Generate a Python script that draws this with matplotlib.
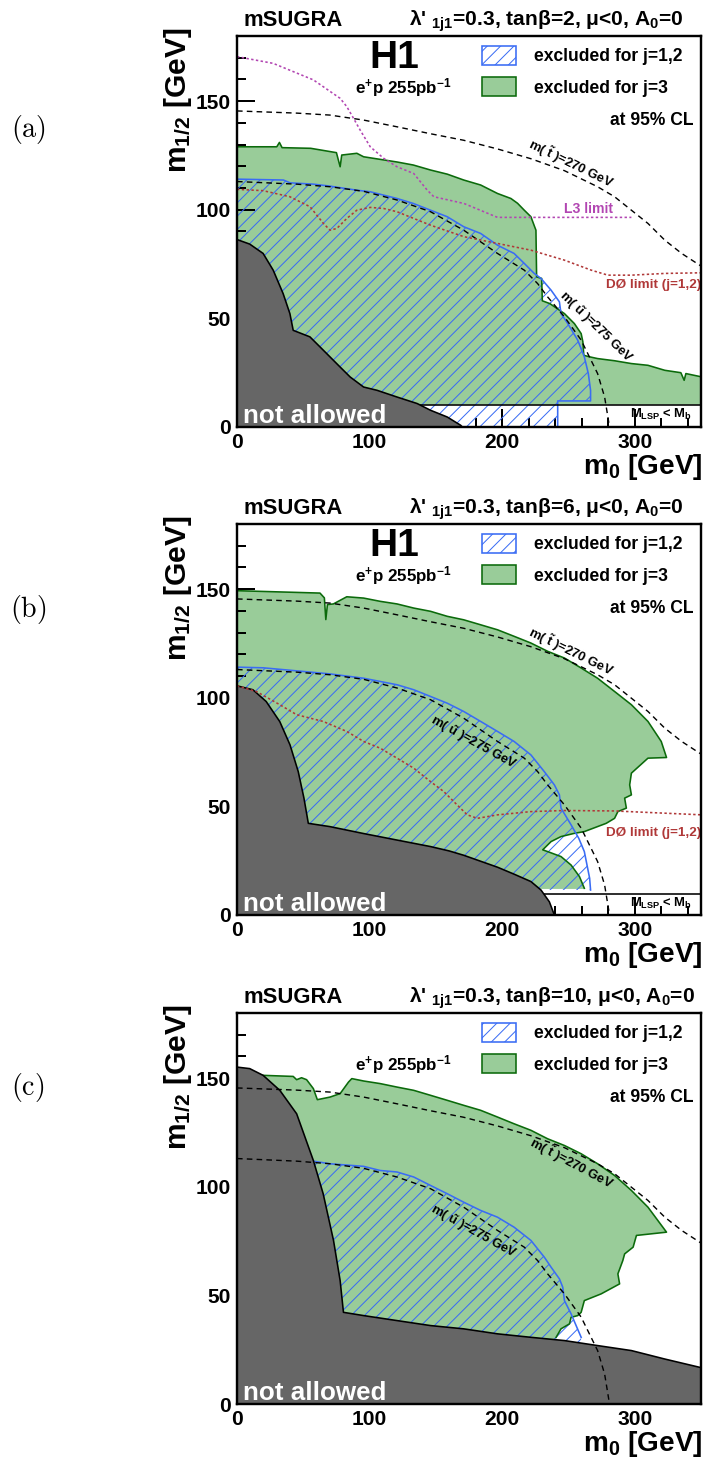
import matplotlib.pyplot as plt
from matplotlib.patches import Patch
from matplotlib.ticker import MultipleLocator

DPI = 80
PX = 72 / DPI  # points per pixel

plt.rcParams['font.family'] = ['Liberation Sans', 'DejaVu Sans']
plt.rcParams['font.weight'] = 'bold'
plt.rcParams['mathtext.fontset'] = 'custom'
plt.rcParams['mathtext.rm'] = 'Liberation Sans:bold'
plt.rcParams['mathtext.bf'] = 'Liberation Sans:bold'
plt.rcParams['mathtext.it'] = 'Liberation Sans:bold:italic'
plt.rcParams['mathtext.sf'] = 'Liberation Sans:bold'
plt.rcParams['hatch.linewidth'] = 1.0 * PX

GREEN = '#99cc99'
DKGREEN = '#0b6a0b'
BLUE = '#3a6cf4'
GREY = '#666666'
L3COL = '#b246b2'
D0COL = '#b03838'

# ---- data (m0, m1/2 in GeV) ----
TANB = [2, 6, 10]
PANEL_TAGS = ['(a)', '(b)', '(c)']

# squark mass contours (same in all panels)
STOP_M0 = [0, 45, 70, 95.5, 120.7, 146, 171, 196.5, 221.7, 247, 272, 284.8, 297.5, 310, 322.7, 335.4, 351]
STOP_M12 = [145.5, 144.5, 143.6, 141.3, 138.2, 135, 132, 128, 123.5, 118, 110.6, 106, 99.8, 93.7, 86, 79.9, 73.7]
SUP_M0 = [0, 45, 70.2, 95.5, 120.7, 146, 171, 196.5, 216.7, 226.8, 234.3, 247, 259.6, 272, 277.3, 281]
SUP_M12 = [113, 111.8, 110.6, 108.5, 104.5, 99.1, 90.6, 79.9, 72.2, 66, 59.9, 50.7, 40, 24.6, 13.8, 0]

# panel (a): tan(beta)=2
A_GREY_M0 = [0, 9.6, 19.7, 27.3, 34.8, 39.9, 42.4, 55, 65.2, 77.8, 85.4, 95.5, 105.6, 120.7, 135.9, 146, 158.6, 168.7, 170]
A_GREY_M12 = [86.3, 84.2, 79.9, 72.2, 61.4, 52.2, 44.5, 41.5, 35.3, 27.6, 23, 18.4, 16.9, 13.8, 10.8, 7.7, 4.6, 0.8, 0]
A_GREEN_M0 = [0, 30, 32, 34, 55.6, 75, 77.8, 79, 90.4, 95.5, 120.7, 133, 146, 158.6, 171, 183.8, 196.5, 206.6,
              211.6, 216.7, 221.7, 224.5, 225.5, 226, 229.8, 230.3, 236, 247, 254.5, 259.6, 260.9, 261.6,
              266, 272, 284.8, 297.5, 310, 322.7, 334.8, 337.3, 338.6, 351]
A_GREEN_M12 = [129, 129, 131, 128.6, 128.3, 126.3, 119.8, 125.2, 126, 124.4, 122, 120.6, 118.3, 116.4, 113.7, 111.4,
               107.5, 105.2, 103, 99.8, 96.8, 92.2, 90.6, 69.1, 68.4, 58.1, 56.8, 52.2, 47.6, 43, 39.2, 33,
               32.3, 31.5, 30.5, 29.2, 28.4, 26.1, 25, 21.5, 24.6, 23]
A_GREEN_FLOOR = 10.3
A_BLUE_M0 = [0, 35, 40, 57.6, 70, 90.4, 100.5, 120.7, 133, 146, 158.6, 171, 183.8, 196.5, 209, 216.7, 224.2,
             229.3, 236.9, 243.2, 244.4, 249.5, 257, 262, 265, 266.7, 266.7, 241.9, 241.9]
A_BLUE_M12 = [114.1, 113.7, 112.4, 111.8, 110.9, 109, 108.3, 105.2, 102.9, 99.8, 96.8, 92.2, 89.1, 83.7, 79.9,
              75.3, 70.7, 68.4, 63, 57.6, 52.2, 47.6, 40, 32.3, 24.6, 16.9, 12, 12, 0]
A_BLUE_FLOOR = 0
A_MLSP = 10.3
A_L3_M0 = [0, 27.3, 57.6, 77.8, 82.8, 87.9, 92.9, 100.5, 110.6, 120.7, 133.3, 143.4, 148.5, 171.2, 196.5, 297.5]
A_L3_M12 = [170.5, 167.4, 159.8, 151.3, 147.5, 142.1, 136.7, 129, 123.7, 119.8, 116.7, 109.1, 106, 102.9, 96.5, 96.5]
A_D0_M0 = [0, 19.7, 39.9, 55.1, 65.2, 70.2, 75.3, 82.8, 90.4, 100.5, 110.6, 120.7, 146, 171.2, 196.5, 221.7,
           247, 267.2, 279.8, 297.5, 322.7, 351]
A_D0_M12 = [109.4, 108.8, 106, 101.4, 93.7, 90.6, 91.4, 96, 99.8, 101.1, 100.6, 99.1, 92.9, 87.6, 84.5, 81.4,
            76.8, 72.2, 69.9, 69.9, 70.7, 71]

# panel (b): tan(beta)=6
B_GREY_M0 = [0, 12, 22, 32.3, 40, 46.2, 50.5, 53.8, 70, 95.5, 120.7, 146, 160, 171, 196.5, 209, 221.7, 229.3, 235.6, 239.4]
B_GREY_M12 = [105.5, 103.7, 98.3, 89, 78.3, 66, 53.8, 42.2, 40.7, 37.5, 34.5, 31.5, 29.5, 27.5, 22, 18.8, 15.4, 11.5, 6.1, 0]
B_GREEN_M0 = [0, 62.6, 65.9, 67, 68.2, 72.7, 82.8, 95.5, 108, 120.7, 133.3, 146, 158.6, 171, 183.8, 196.5, 209,
              221.7, 234.3, 247, 259.6, 272, 284.8, 297.5, 310, 320, 324, 310, 297.5, 296.2, 297.5, 292.4,
              293.7, 287.3, 284.8, 278.5, 262, 254.5, 244.4, 236.9, 230.6, 234.3, 244.4, 252, 258.3, 262]
B_GREEN_M12 = [149.3, 148.2, 146, 136, 142.9, 143.2, 146.5, 145.9, 144.4, 143.2, 141.3, 139.8, 137.5, 135.9, 133.6,
               131.3, 128.3, 125.2, 121.4, 118.3, 113.7, 109, 102.9, 96.8, 89.1, 79.9, 72.5, 72.2, 65.3, 59.9,
               55.3, 53.8, 49.2, 47.6, 44.5, 42.2, 38.4, 37.6, 36.1, 33.8, 30, 29.2, 26.9, 23, 17.7, 12.3]
B_GREEN_FLOOR = 12
B_BLUE_M0 = [0, 19.7, 45, 70, 95.5, 120.7, 133.3, 146, 158.6, 171, 183.8, 196.5, 209, 221.7, 231.8, 239.4,
             243.2, 244.4, 252, 257.8, 262, 266, 266.7]
B_BLUE_M12 = [114.1, 113.8, 112.4, 111, 109, 106, 103.7, 100.6, 97.5, 93.7, 89.1, 84.5, 79.9, 73.7, 66, 59.9,
              55.3, 49.2, 41.5, 35.3, 29.2, 16.9, 11.5]
B_BLUE_FLOOR = 11.5
B_MLSP = 9.7
B_D0_M0 = [0, 14.6, 32.3, 45, 65, 82.8, 95.5, 108, 120.7, 133.3, 146, 156, 166, 173.7, 181.3, 196.5, 221.7,
           247, 284.8, 351]
B_D0_M12 = [105.5, 102.9, 96.8, 92.2, 89.1, 84.5, 79.9, 76.8, 72.2, 67.6, 61.4, 56.8, 50.7, 46.1, 44.5, 46.1,
            47.6, 48.1, 47.9, 46.1]

# panel (c): tan(beta)=10
C_GREY_M0 = [0, 9.6, 19.7, 32.3, 45, 57.6, 65, 72.8, 77.8, 80.3, 95.5, 120.7, 146, 171, 196.5, 221.7, 247, 272,
             297.5, 322.7, 351]
C_GREY_M12 = [155.1, 154.4, 151.3, 144.4, 133.6, 112.1, 96.8, 75.3, 56.8, 42.2, 40.7, 38.4, 36.1, 34.6, 32.3,
              30.7, 29.2, 26.9, 24.6, 20.7, 16.6]
C_GREEN_M0 = [19.7, 42.4, 45, 48.7, 52.5, 57.6, 60.6, 70.2, 77.8, 84.1, 86.6, 95.5, 108, 120.7, 133.3, 146,
              158.6, 171, 183.8, 196.5, 209, 221.7, 234.3, 247, 259.6, 272, 284.8, 297.5, 310, 324, 301.3,
              298.8, 292.4, 291, 287.3, 288.6, 274.7, 262, 259.6, 257, 252, 250.8, 244.4, 240.7]
C_GREEN_M12 = [151.3, 150.8, 149.3, 150.2, 149.3, 145.2, 140.1, 141.3, 142.9, 148.2, 149.8, 148.7, 147.5, 145.9,
               144.4, 142.1, 139.8, 137.5, 135.2, 132.1, 129, 126, 122.1, 119, 115.2, 110.6, 105.2, 98.3, 90.6,
               79.1, 77.6, 72.2, 69.1, 66, 59.9, 55.3, 50.7, 47.6, 42.2, 40.7, 39.9, 36.9, 34.6, 30.7]
C_GREEN_FLOOR = 0
C_BLUE_M0 = [57.6, 70, 95.5, 108, 120.7, 133.3, 146, 158.6, 171, 183.8, 196.5, 209, 221.7, 231.8, 236.9, 243.2,
             245.7, 247, 252, 259.6]
C_BLUE_M12 = [111.8, 110.6, 109.4, 107.5, 106.8, 104.5, 100.6, 96.8, 92.9, 89.1, 86, 81.4, 75.3, 67.6, 63, 57.6,
              53.8, 47.6, 41.5, 30.7]
C_BLUE_FLOOR = 0


def closed(m0, m12, floor):
    return list(m0) + [m0[-1], 0], list(m12) + [floor, floor]


def draw_panel(ax, tanb, grey, green, green_floor, blue, blue_floor, mlsp=None, l3=None, d0=None,
               d0_lab_y=None, h1=True, stop_lab=(252, 121.3, -26), sup_lab=(271, 46, -44)):
    # green (j=3) region
    gx, gy = closed(green[0], green[1], green_floor)
    ax.fill(gx, gy, facecolor=GREEN, edgecolor='none', zorder=1)
    ax.plot(green[0], green[1], color=DKGREEN, lw=1.6 * PX, zorder=2.5)
    # blue hatched (j=1,2) region
    bx, by = closed(blue[0], blue[1], blue_floor)
    ax.fill(bx, by, facecolor='none', edgecolor=BLUE, hatch='//', linewidth=0, zorder=2)
    ax.plot(blue[0], blue[1], color=BLUE, lw=1.6 * PX, zorder=3)
    if mlsp is not None:
        ax.plot([0, 350], [mlsp, mlsp], color='black', lw=1.6 * PX, zorder=3.5)
        ax.text(343, mlsp - 4.6, r'M$_{\mathrm{LSP}}$ < M$_{\mathrm{b}}$', fontsize=13 * PX,
                ha='right', va='center', zorder=8)
    # not allowed region
    rx, ry = closed(grey[0], grey[1], 0)
    ax.fill(rx, ry, facecolor=GREY, edgecolor='none', zorder=5)
    ax.plot(grey[0], grey[1], color='black', lw=1.6 * PX, zorder=5.5)
    # mass contours
    ax.plot(STOP_M0, STOP_M12, color='black', lw=1.4 * PX, ls=(0, (4, 3)), zorder=6)
    ax.plot(SUP_M0, SUP_M12, color='black', lw=1.4 * PX, ls=(0, (4, 3)), zorder=6)
    ax.text(stop_lab[0], stop_lab[1], r'm( $\tilde{\mathrm{t}}$ )=270 GeV', fontsize=13 * PX,
            rotation=stop_lab[2], rotation_mode='anchor', ha='center', va='center', zorder=8)
    ax.text(sup_lab[0], sup_lab[1], r'm( $\tilde{\mathrm{u}}$ )=275 GeV', fontsize=13 * PX,
            rotation=sup_lab[2], rotation_mode='anchor', ha='center', va='center', zorder=8)
    if l3 is not None:
        ax.plot(l3[0], l3[1], color=L3COL, lw=1.6 * PX, ls=(0, (1.5, 1.5)), zorder=6)
        ax.text(265, 100.2, 'L3 limit', color=L3COL, fontsize=14 * PX, ha='center', va='center', zorder=8)
    if d0 is not None:
        ax.plot(d0[0], d0[1], color=D0COL, lw=1.6 * PX, ls=(0, (1.5, 1.5)), zorder=6)
        ax.text(350, d0_lab_y, u'DØ limit (j=1,2)', color=D0COL, fontsize=13.5 * PX,
                ha='right', va='center', zorder=8)

    ax.set_xlim(0, 350)
    ax.set_ylim(0, 180)
    ax.set_xticks([0, 100, 200, 300])
    ax.set_yticks([0, 50, 100, 150])
    ax.xaxis.set_minor_locator(MultipleLocator(20))
    ax.yaxis.set_minor_locator(MultipleLocator(10))
    ax.tick_params(which='both', direction='in', top=False, right=False, width=2 * PX,
                   labelsize=21 * PX, pad=6 * PX)
    ax.tick_params(which='major', length=18 * PX)
    ax.tick_params(which='minor', length=9 * PX)
    for lab in ax.get_xticklabels() + ax.get_yticklabels():
        lab.set_fontweight('bold')
    for sp in ax.spines.values():
        sp.set_linewidth(2.4 * PX)
        sp.set_zorder(10)

    # texts
    ax.text(0.013, 1.026, 'mSUGRA', transform=ax.transAxes, fontsize=22 * PX, ha='left', va='baseline')
    ax.text(0.37, 1.026, u"λ' $_{\\mathrm{1j1}}$=0.3, tanβ=%d, μ<0, A$_{\\mathrm{0}}$=0" % tanb,
            transform=ax.transAxes, fontsize=21 * PX, ha='left', va='baseline')
    ax.text(-0.127, 1.023, r'm$_{\mathrm{1/2}}$ [GeV]', transform=ax.transAxes, fontsize=30 * PX,
            rotation=90, ha='center', va='top')
    ax.text(1.003, -0.102, r'm$_{\mathrm{0}}$ [GeV]', transform=ax.transAxes, fontsize=28 * PX,
            ha='right', va='center')
    if h1:
        ax.text(0.338, 0.917, 'H1', transform=ax.transAxes, fontsize=39 * PX, ha='center', va='baseline', zorder=8)
    ax.text(0.358, 0.852, r'e$^{\mathrm{+}}$p 255pb$^{\mathrm{-1}}$', transform=ax.transAxes,
            fontsize=17 * PX, ha='center', va='baseline', zorder=8)
    ax.text(0.983, 0.783, 'at 95% CL', transform=ax.transAxes, fontsize=17.5 * PX,
            ha='right', va='center', zorder=8)
    ax.text(0.013, 0.01, 'not allowed', transform=ax.transAxes, color='white', fontsize=26 * PX,
            ha='left', va='baseline', zorder=8)
    handles = [Patch(facecolor='white', edgecolor=BLUE, hatch='//', linewidth=1.6 * PX),
               Patch(facecolor=GREEN, edgecolor=DKGREEN, linewidth=1.6 * PX)]
    ax.legend(handles, ['excluded for j=1,2', 'excluded for j=3'], loc='upper left',
              bbox_to_anchor=(0.528, 0.974), frameon=False, prop={'size': 17.5 * PX, 'weight': 'bold'},
              handlelength=1.94, handleheight=1.26, labelspacing=0.69, handletextpad=1.03,
              borderpad=0, borderaxespad=0)


fig = plt.figure(figsize=(704 / DPI, 1463 / DPI), dpi=DPI)
left, width, height = 237 / 704, 464 / 704, 391 / 1463
bottoms = [(1463 - 427) / 1463, (1463 - 915) / 1463, (1463 - 1404) / 1463]
axes = [fig.add_axes([left, b, width, height]) for b in bottoms]

draw_panel(axes[0], TANB[0], (A_GREY_M0, A_GREY_M12), (A_GREEN_M0, A_GREEN_M12), A_GREEN_FLOOR,
           (A_BLUE_M0, A_BLUE_M12), A_BLUE_FLOOR, mlsp=A_MLSP, l3=(A_L3_M0, A_L3_M12),
           d0=(A_D0_M0, A_D0_M12), d0_lab_y=65.3)
draw_panel(axes[1], TANB[1], (B_GREY_M0, B_GREY_M12), (B_GREEN_M0, B_GREEN_M12), B_GREEN_FLOOR,
           (B_BLUE_M0, B_BLUE_M12), B_BLUE_FLOOR, mlsp=B_MLSP, d0=(B_D0_M0, B_D0_M12), d0_lab_y=37.6,
           sup_lab=(178, 79.6, -29))
draw_panel(axes[2], TANB[2], (C_GREY_M0, C_GREY_M12), (C_GREEN_M0, C_GREEN_M12), C_GREEN_FLOOR,
           (C_BLUE_M0, C_BLUE_M12), C_BLUE_FLOOR, h1=False,
           stop_lab=(252.5, 111, -28), sup_lab=(178, 79.6, -29))

for tag, yc in zip(PANEL_TAGS, [130, 609, 1087]):
    fig.text(28 / 704, 1 - yc / 1463, r'$\mathrm{%s}$' % tag, math_fontfamily='cm',
             fontsize=28 * PX, ha='center', va='center')

fig.savefig('out.png', dpi=DPI)
